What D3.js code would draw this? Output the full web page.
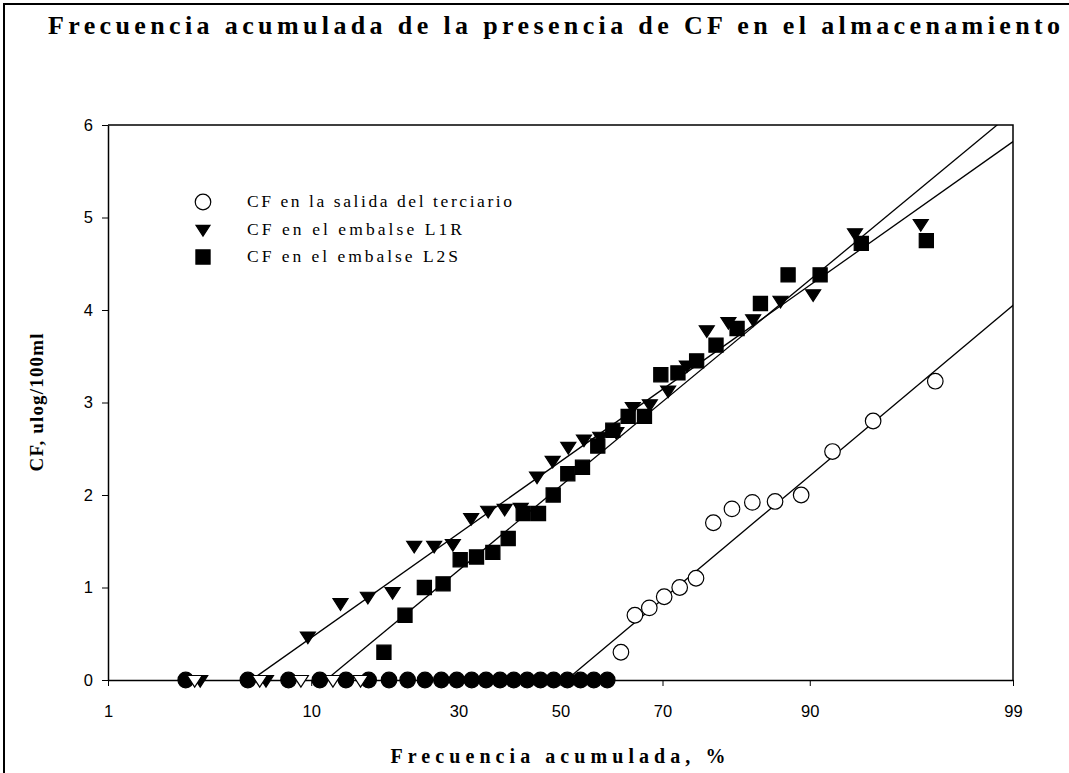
<!DOCTYPE html>
<html>
<head>
<meta charset="utf-8">
<script src="https://cdn.jsdelivr.net/npm/d3@7"></script>
<style>
body { margin: 0; background: #fff; }
svg text { fill: #000; }
</style>
</head>
<body>
<div id="chart"></div>
<script>
// cumulative frequency (%) and CF value (ulog/100ml)
var xTicks = [1, 10, 30, 50, 70, 90, 99],
    yTicks = [0, 1, 2, 3, 4, 5, 6];

// terciario: samples at zero (drawn filled) and the rest
var tercZeroPct = [2.7, 5.4, 8.1, 10.8, 13.5, 16.2, 18.9, 21.6, 24.3, 27.0, 29.7,
                   32.4, 35.1, 37.8, 40.5, 43.2, 45.9, 48.6, 51.4, 54.1, 56.8, 59.5];
var tercPct = [62.2, 64.9, 67.6, 70.3, 73.0, 75.7, 78.4, 81.1, 83.8, 86.5, 89.2, 91.9, 94.6, 97.3];
var tercVal = [0.3, 0.7, 0.78, 0.9, 1.0, 1.1, 1.7, 1.85, 1.92, 1.93, 2.0, 2.47, 2.8, 3.23];

// embalse L1R
var l1rZeroPct = [3.2, 6.5];
var l1rPct = [9.7, 12.9, 16.1, 19.4, 22.6, 25.8, 29.0, 32.3, 35.5, 38.7, 41.9, 45.2, 48.4, 51.6,
              54.8, 58.1, 61.3, 64.5, 67.7, 71.0, 74.2, 77.4, 80.6, 83.9, 87.1, 90.3, 93.5, 96.8];
var l1rVal = [0.47, 0.83, 0.9, 0.95, 1.45, 1.45, 1.47, 1.75, 1.83, 1.85, 1.86, 2.2, 2.37, 2.52,
              2.6, 2.63, 2.68, 2.95, 2.98, 3.13, 3.4, 3.78, 3.87, 3.9, 4.1, 4.17, 4.83, 4.93];

// embalse L2S (zeros drawn as open triangles)
var l2sZeroPct = [3.0, 6.1, 9.1, 12.1, 15.2];
var l2sPct = [18.2, 21.2, 24.2, 27.3, 30.3, 33.3, 36.4, 39.4, 42.4, 45.5, 48.5, 51.5, 54.5, 57.6,
              60.6, 63.6, 66.7, 69.7, 72.7, 75.8, 78.8, 81.8, 84.8, 87.9, 90.9, 93.9, 97.0];
var l2sVal = [0.3, 0.7, 1.0, 1.04, 1.3, 1.33, 1.38, 1.53, 1.8, 1.8, 2.0, 2.23, 2.3, 2.53,
              2.7, 2.85, 2.85, 3.3, 3.32, 3.45, 3.62, 3.8, 4.07, 4.38, 4.38, 4.72, 4.75];

// regression lines, two points each [pct, value]
var fitTerc = [[51.2, 0], [99, 4.05]],
    fitL1R = [[5.6, 0], [99, 5.82]],
    fitL2S = [[11.4, 0], [98.76, 6]];

var legendNames = ['CF en la salida del terciario', 'CF en el embalse L1R', 'CF en el embalse L2S'];

// inverse normal cdf (Acklam)
function probit(p) {
    var a = [-3.969683028665376e+01, 2.209460984245205e+02, -2.759285104469687e+02,
             1.383577518672690e+02, -3.066479806614716e+01, 2.506628277459239e+00],
        b = [-5.447609879822406e+01, 1.615858368580409e+02, -1.556989798598866e+02,
             6.680131188771972e+01, -1.328068155288572e+01],
        c = [-7.784894002430293e-03, -3.223964580411365e-01, -2.400758277161838e+00,
             -2.549732539343734e+00, 4.374664141464968e+00, 2.938163982698783e+00],
        d = [7.784695709041462e-03, 3.224671290700398e-01, 2.445134137142996e+00,
             3.754408661907416e+00],
        q, r, plow = 0.02425;
    if (p < plow) {
        q = Math.sqrt(-2 * Math.log(p));
        return (((((c[0]*q+c[1])*q+c[2])*q+c[3])*q+c[4])*q+c[5]) /
               ((((d[0]*q+d[1])*q+d[2])*q+d[3])*q+1);
    }
    if (p > 1 - plow) {
        q = Math.sqrt(-2 * Math.log(1 - p));
        return -(((((c[0]*q+c[1])*q+c[2])*q+c[3])*q+c[4])*q+c[5]) /
                ((((d[0]*q+d[1])*q+d[2])*q+d[3])*q+1);
    }
    q = p - 0.5;
    r = q * q;
    return (((((a[0]*r+a[1])*r+a[2])*r+a[3])*r+a[4])*r+a[5])*q /
           (((((b[0]*r+b[1])*r+b[2])*r+b[3])*r+b[4])*r+1);
}

var W = 1069, H = 773,
    mLeft = 108, mRight = 1013, mTop = 125, mBottom = 680;

var svg = d3.select('#chart').append('svg')
    .attr('width', W)
    .attr('height', H);

// outer frame (runs off the page right and bottom)
svg.append('rect')
    .attr('x', 4).attr('y', 4)
    .attr('width', 1200).attr('height', 900)
    .attr('fill', 'none')
    .attr('stroke', '#000')
    .attr('stroke-width', 2);

var x = d3.scaleLinear().domain([probit(0.01), probit(0.99)]).range([mLeft, mRight]),
    y = d3.scaleLinear().domain([0, 6]).range([mBottom, mTop]);

function px(p) { return x(probit(p / 100)); }

svg.append('defs').append('clipPath').attr('id', 'plotclip')
    .append('rect')
    .attr('x', mLeft).attr('y', mTop)
    .attr('width', mRight - mLeft).attr('height', mBottom - mTop);

// axes
var xAxis = d3.axisBottom(x)
    .tickValues(xTicks.map(function (t) { return probit(t / 100); }))
    .tickFormat(function (d, i) { return xTicks[i]; })
    .tickSize(6).tickSizeOuter(0);
var gx = svg.append('g').attr('transform', 'translate(0,' + mBottom + ')').call(xAxis);

var yAxis = d3.axisLeft(y).tickValues(yTicks).tickFormat(d3.format('d'))
    .tickSize(6).tickSizeOuter(0);
var gy = svg.append('g').attr('transform', 'translate(' + mLeft + ',0)').call(yAxis);

[gx, gy].forEach(function (g) {
    g.selectAll('.domain').attr('stroke', '#000').attr('stroke-width', 1.5);
    g.selectAll('.tick line').attr('stroke', '#000').attr('stroke-width', 1);
    g.selectAll('.tick text')
        .attr('font-family', '"Liberation Sans", Arial, sans-serif')
        .attr('font-size', 16.5)
        .attr('fill', '#000');
});
gx.selectAll('.tick text').attr('y', 25);
gy.selectAll('.tick text').attr('x', -15);

// top and right frame of the plot
svg.append('path')
    .attr('d', 'M' + mLeft + ',' + mTop + 'H' + mRight + 'V' + mBottom)
    .attr('fill', 'none')
    .attr('stroke', '#000')
    .attr('stroke-width', 1.5);

// fit lines
var plot = svg.append('g').attr('clip-path', 'url(#plotclip)');

function extend(seg) {
    // prolong the segment far beyond the plot, clip does the rest
    var z0 = probit(seg[0][0] / 100), z1 = probit(seg[1][0] / 100),
        k = (seg[1][1] - seg[0][1]) / (z1 - z0),
        zEnd = 3.5;
    return [[x(z0), y(seg[0][1])], [x(zEnd), y(seg[0][1] + k * (zEnd - z0))]];
}
[fitTerc, fitL1R, fitL2S].forEach(function (seg) {
    plot.append('path')
        .attr('d', d3.line()(extend(seg)))
        .attr('fill', 'none')
        .attr('stroke', '#000')
        .attr('stroke-width', 1.3);
});

var sym = {
    circle: d3.symbol().type(d3.symbolCircle).size(190),
    square: d3.symbol().type(d3.symbolSquare).size(200),
    tri: function (s) {
        return 'M' + (-s) + ',' + (-s * 0.6) + 'L' + s + ',' + (-s * 0.6) + 'L0,' + (s * 0.95) + 'Z';
    }
};

function drawPts(pcts, vals, shape, fill) {
    var g = svg.append('g');
    g.selectAll('path').data(pcts).enter().append('path')
        .attr('transform', function (d, i) {
            return 'translate(' + px(d) + ',' + y(vals ? vals[i] : 0) + ')';
        })
        .attr('d', shape === 'tri' ? sym.tri(7.5) : sym[shape]())
        .attr('fill', fill)
        .attr('stroke', '#000')
        .attr('stroke-width', 1.2);
}

drawPts(l1rZeroPct, null, 'tri', '#000');
drawPts(tercZeroPct, null, 'circle', '#000');
drawPts(l2sZeroPct, null, 'tri', '#fff');
drawPts(l1rPct, l1rVal, 'tri', '#000');
drawPts(l2sPct, l2sVal, 'square', '#000');
drawPts(tercPct, tercVal, 'circle', '#fff');

// legend
var lg = svg.append('g');
var legShapes = [['circle', '#fff'], ['tri', '#000'], ['square', '#000']],
    legWidths = [265, 215, 211];
legendNames.forEach(function (name, i) {
    var ly = 202 + i * 27.5;
    lg.append('path')
        .attr('transform', 'translate(203,' + ly + ')')
        .attr('d', legShapes[i][0] === 'tri' ? sym.tri(7) : sym[legShapes[i][0]]())
        .attr('fill', legShapes[i][1])
        .attr('stroke', '#000')
        .attr('stroke-width', 1.2);
    lg.append('text')
        .attr('x', 247).attr('y', ly + 5)
        .attr('font-family', '"Liberation Serif", "Times New Roman", serif')
        .attr('font-size', 17.5)
        .attr('textLength', legWidths[i])
        .attr('lengthAdjust', 'spacing')
        .text(name);
});

// titles
svg.append('text')
    .attr('x', 48).attr('y', 34)
    .attr('font-family', '"Liberation Serif", "Times New Roman", serif')
    .attr('font-weight', 'bold')
    .attr('font-size', 26)
    .attr('textLength', 1012)
    .attr('lengthAdjust', 'spacing')
    .text('Frecuencia acumulada de la presencia de CF en el almacenamiento');

svg.append('text')
    .attr('x', 558).attr('y', 763)
    .attr('text-anchor', 'middle')
    .attr('font-family', '"Liberation Serif", "Times New Roman", serif')
    .attr('font-weight', 'bold')
    .attr('font-size', 20)
    .attr('textLength', 335)
    .attr('lengthAdjust', 'spacing')
    .text('Frecuencia acumulada, %');

svg.append('text')
    .attr('transform', 'translate(43,' + ((mTop + mBottom) / 2) + ') rotate(-90)')
    .attr('text-anchor', 'middle')
    .attr('font-family', '"Liberation Serif", "Times New Roman", serif')
    .attr('font-weight', 'bold')
    .attr('font-size', 19)
    .attr('textLength', 138)
    .attr('lengthAdjust', 'spacing')
    .text('CF, ulog/100ml');
</script>
</body>
</html>
